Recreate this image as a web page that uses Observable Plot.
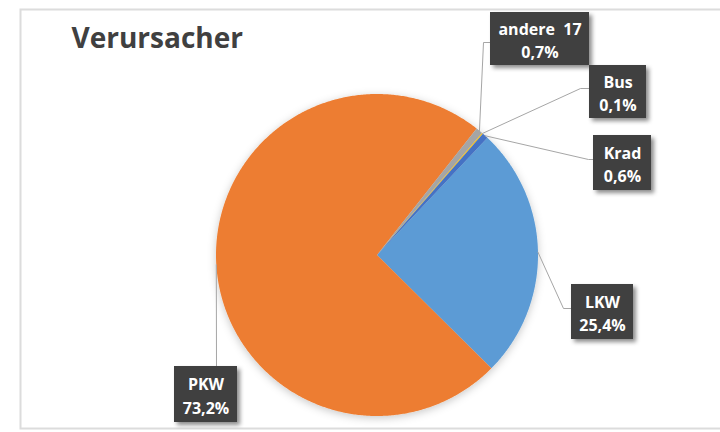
<!DOCTYPE html>
<html>
<head>
<meta charset="utf-8">
<script src="https://cdn.jsdelivr.net/npm/d3@7"></script>
<script src="https://cdn.jsdelivr.net/npm/@observablehq/plot@0.6"></script>
<style>
  html, body { margin: 0; padding: 0; background: #ffffff; }
  #chart { width: 720px; height: 432px; }
</style>
</head>
<body>
<div id="chart"></div>
<script>
// ---- data ----
const title = "Verursacher";
const categories = ["LKW", "PKW", "andere 17", "Bus", "Krad"];
const shares = [25.4, 73.2, 0.7, 0.1, 0.6];           // percent
const colors = ["#5B9BD5", "#ED7D31", "#A5A5A5", "#FFC000", "#4472C4"];

// ---- layout ----
const firstSliceAngle = 43.3;          // degrees, clockwise from 12 o'clock
const pieCenter = [376.5, 254.5];
const pieRadius = 161;
const titlePos = [71, 47];
const labelNames = ["LKW", "PKW", "andere 17", "Bus", "Krad"];
const labelBoxX1 = [571, 174, 490, 589, 593];
const labelBoxX2 = [633, 237, 589, 646, 651];
const labelBoxY1 = [284, 366, 12, 65, 135];
const labelBoxY2 = [339, 422, 65, 118, 190];
const leaderElbows = [[563, 308], null, [483, 42], [580, 88], [588, 159]];
const leaderEnds = [[571, 308], [216, 366], [490, 42], [589, 88], [593, 159]];

const fmtPct = v => d3.format(".1f")(v).replace(".", ",") + "%";
const rad = deg => deg * Math.PI / 180;

const a0 = rad(firstSliceAngle);
const arcs = d3.pie().sort(null).startAngle(a0).endAngle(a0 + 2 * Math.PI)(shares);
const pt = (a, r) => [pieCenter[0] + r * Math.sin(a), pieCenter[1] - r * Math.cos(a)];

// slice polygons
const slicePts = [];
arcs.forEach((arc, i) => {
  const name = categories[i];
  const n = Math.max(2, Math.ceil((arc.endAngle - arc.startAngle) / rad(0.5)));
  slicePts.push({name, x: pieCenter[0], y: pieCenter[1]});
  for (let k = 0; k <= n; k++) {
    const a = arc.startAngle + (arc.endAngle - arc.startAngle) * k / n;
    const [x, y] = pt(a, pieRadius);
    slicePts.push({name, x, y});
  }
  slicePts.push({name, x: pieCenter[0], y: pieCenter[1]});
});

// labels and leader lines
const labels = labelNames.map((name, i) => {
  const idx = categories.indexOf(name);
  return {
    name,
    text: name.replace(" ", "\u00a0\u00a0") + "\n" + fmtPct(shares[idx]),
    x1: labelBoxX1[i], x2: labelBoxX2[i], y1: labelBoxY1[i], y2: labelBoxY2[i]
  };
});
const leaderPts = [];
labelNames.forEach((name, i) => {
  const arc = arcs[categories.indexOf(name)];
  const mid = (arc.startAngle + arc.endAngle) / 2;
  const [sx, sy] = pt(mid, pieRadius);
  leaderPts.push({name, x: sx, y: sy});
  if (leaderElbows[i]) leaderPts.push({name, x: leaderElbows[i][0], y: leaderElbows[i][1]});
  leaderPts.push({name, x: leaderEnds[i][0], y: leaderEnds[i][1]});
});

const font = "'Open Sans', 'DejaVu Sans', sans-serif";

const svg = Plot.plot({
  width: 720,
  height: 432,
  margin: 0,
  style: {background: "#ffffff", fontFamily: font},
  x: {domain: [0, 720], range: [0, 720], axis: null},
  y: {domain: [0, 432], range: [0, 432], axis: null},
  color: {domain: categories, range: colors},
  marks: [
    Plot.frame({insetLeft: 20, insetTop: 9, insetBottom: 4, insetRight: -3, stroke: "#dcdcdc", strokeWidth: 2}),
    Plot.line(slicePts, {x: "x", y: "y", z: "name", fill: "name", stroke: "none", curve: "linear"}),
    Plot.line(leaderPts, {x: "x", y: "y", z: "name", stroke: "#a6a6a6", strokeWidth: 1}),
    Plot.rect(labels, {x1: "x1", x2: "x2", y1: "y1", y2: "y2", fill: "#404040"}),
    Plot.text(labels, {
      x: d => (d.x1 + d.x2) / 2, y: d => (d.y1 + d.y2) / 2, text: "text",
      fill: "#ffffff", fontSize: 16, fontWeight: "bold", lineHeight: 1.45, fontFamily: font
    }),
    Plot.text([title], {
      x: () => titlePos[0], y: () => titlePos[1], text: d => d,
      textAnchor: "start", lineAnchor: "bottom", fontSize: 28, fontWeight: 700,
      fill: "#404040", fontFamily: font
    })
  ]
});

// soft shadows (Excel-like)
const ns = "http://www.w3.org/2000/svg";
const defs = document.createElementNS(ns, "defs");
defs.innerHTML = `
  <filter id="pieShadow" x="-20%" y="-20%" width="140%" height="140%">
    <feDropShadow dx="0" dy="2" stdDeviation="4" flood-color="#000" flood-opacity="0.22"/>
  </filter>
  <filter id="boxShadow" x="-20%" y="-20%" width="150%" height="150%">
    <feDropShadow dx="3" dy="3" stdDeviation="2" flood-color="#000" flood-opacity="0.45"/>
  </filter>`;
svg.insertBefore(defs, svg.firstChild);
const lineGroups = svg.querySelectorAll('g[aria-label="line"]');
if (lineGroups[0]) lineGroups[0].setAttribute("filter", "url(#pieShadow)");
const rectGroup = svg.querySelector('g[aria-label="rect"]');
if (rectGroup) rectGroup.setAttribute("filter", "url(#boxShadow)");

document.getElementById("chart").appendChild(svg);
</script>
</body>
</html>
